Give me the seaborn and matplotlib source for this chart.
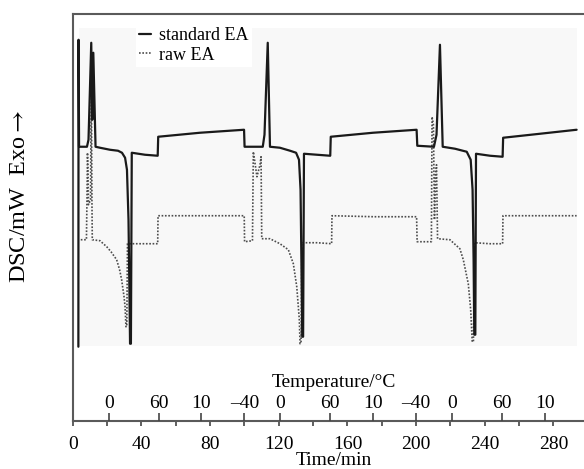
import matplotlib
matplotlib.use("Agg")
import matplotlib.pyplot as plt
import seaborn as sns
import pandas as pd
from matplotlib.patches import Rectangle

# ---------------- data ----------------
# time in min, DSC signal in arbitrary units (Exo up)
std_time = [3.3, 3.4, 3.7, 8.3, 9.2, 10.8, 11.4, 12.0, 13.3, 15.9,
            21.7, 26.4, 28.7, 30.5, 31.6, 32.5, 33.1, 33.4, 33.9, 34.4,
            42.1, 49.5, 49.8, 74.1, 99.8, 100.1, 110.7, 111.7, 113.6, 114.9,
            120.7, 126.6, 130.1, 131.8, 132.7, 133.2, 133.7, 134.2, 134.7, 142.3,
            150.0, 150.3, 174.9, 200.3, 200.7, 210.4, 211.9, 213.9, 215.5, 222.7,
            229.5, 231.8, 232.9, 233.5, 233.9, 234.5, 234.9, 243.1, 250.4, 250.7,
            272.2, 293.5]
std_signal = [74, 381, 274, 274, 281, 378, 301, 368, 274, 273,
              271, 270, 268, 263, 251, 201, 121, 77, 77, 268,
              266, 265, 284, 288, 291, 274, 274, 286, 378, 274,
              273, 270, 268, 261, 231, 161, 84, 84, 267, 266,
              265, 284, 288, 291, 275, 274, 286, 376, 274, 272,
              269, 261, 231, 161, 86, 86, 267, 265, 264, 283,
              287, 291]

raw_time = [4.7, 8.0, 8.3, 8.6, 8.9, 9.2, 10.4, 10.8, 11.2, 11.4,
            15.9, 19.8, 22.3, 25.6, 27.3, 28.5, 29.9, 30.5, 31.0, 31.5,
            31.9, 40.4, 49.5, 49.7, 74.1, 99.9, 100.1, 104.7, 105.2, 105.9,
            107.3, 109.1, 109.7, 110.1, 114.9, 120.7, 125.6, 128.5, 130.5, 132.0,
            132.4, 133.0, 133.5, 142.3, 150.8, 151.0, 175.5, 200.3, 200.6, 208.9,
            209.3, 210.1, 210.7, 211.4, 211.9, 212.5, 219.7, 225.5, 227.5, 230.4,
            231.8, 232.7, 233.4, 234.1, 243.0, 250.4, 250.6, 272.2, 293.5]
raw_signal = [181, 181, 221, 268, 251, 216, 221, 351, 221, 181,
              180, 174, 169, 161, 151, 141, 124, 114, 94, 94,
              177, 177, 177, 205, 205, 205, 179, 180, 269, 261,
              244, 256, 264, 182, 182, 177, 171, 157, 134, 101,
              77, 78, 178, 178, 177, 205, 204, 204, 179, 179,
              304, 296, 201, 246, 256, 182, 181, 172, 161, 137,
              111, 79, 79, 178, 177, 177, 205, 205, 205]

series_labels = ["standard EA", "raw EA"]

time_ticks = [0, 40, 80, 120, 160, 200, 240, 280]
time_minor_ticks = [20, 60, 100, 140, 180, 220, 260]
temp_tick_pos = [21, 50, 75, 100, 121, 150, 175, 200, 221, 250, 275]
temp_tick_labels = ["0", "60", "10", "\u201340", "0", "60", "10", "\u201340", "0", "60", "10"]

# ---------------- styling ----------------
sns.set_theme(style="ticks")
plt.rcParams["font.family"] = ["Liberation Serif", "DejaVu Serif"]
plt.rcParams["mathtext.fontset"] = "stix"
plt.rcParams["text.color"] = "black"
plt.rcParams["axes.labelcolor"] = "black"
plt.rcParams["xtick.color"] = "#444444"
plt.rcParams["xtick.labelcolor"] = "black"

fig = plt.figure(figsize=(5.84, 4.69), dpi=100)
ax = fig.add_axes([0.1245, 0.103, 0.8755, 0.867])
ax.set_facecolor("white")
XMAX = 297.8
ax.set_xlim(0, XMAX)
ax.set_ylim(0, 406.7)

# light grey panel of the original instrument plot
ax.add_patch(Rectangle((3.7, 75), 290, 318, facecolor="#f8f8f8",
                       edgecolor="none", zorder=0))

std_df = pd.DataFrame({"time": std_time, "signal": std_signal})
raw_df = pd.DataFrame({"time": raw_time, "signal": raw_signal})

sns.lineplot(data=std_df, x="time", y="signal", ax=ax, sort=False,
             estimator=None, color="#1a1a1a", linewidth=1.6,
             label=series_labels[0], zorder=3)
sns.lineplot(data=raw_df, x="time", y="signal", ax=ax, sort=False,
             estimator=None, color="#4d4d4d", linewidth=1.2,
             linestyle=(0, (1, 1)), label=series_labels[1], zorder=2)

handles, labels = ax.get_legend_handles_labels()
leg = ax.legend(handles, labels, loc="upper left",
                bbox_to_anchor=(0.123, 0.976), borderaxespad=0,
                frameon=True, facecolor="white", edgecolor="none",
                framealpha=1, fancybox=False, fontsize=13,
                handlelength=0.65, handletextpad=0.45, borderpad=0.2,
                labelspacing=0.12)

# spines
for side in ["left", "top", "bottom"]:
    ax.spines[side].set_color("#5a5a5a")
    ax.spines[side].set_linewidth(1.5)
ax.spines["right"].set_visible(False)

ax.set_yticks([])
ax.set_ylabel("")

ax.set_xticks(time_ticks)
ax.set_xticks(time_minor_ticks, minor=True)
ax.set_xticklabels([str(v) for v in time_ticks])
ax.tick_params(axis="x", which="both", bottom=True, top=False,
               direction="out", length=3.4, width=1.2, colors="#444444",
               labelcolor="black", labelsize=14, pad=7.5)
ax.set_xlabel("Time/min", fontsize=14)
ax.xaxis.set_label_coords(0.511, -0.077)

# temperature axis drawn just above the time axis
ax2 = ax.twiny()
ax2.set_xlim(0, XMAX)
for side in ["left", "right", "bottom", "top"]:
    ax2.spines[side].set_visible(False)
ax2.spines["top"].set_position(("axes", 0.0))
ax2.set_xticks(temp_tick_pos)
ax2.set_xticklabels(temp_tick_labels)
ax2.tick_params(axis="x", which="major", top=True, bottom=False,
                labeltop=True, labelbottom=False, direction="out",
                length=6, width=1.2, colors="#444444", labelcolor="black",
                labelsize=14, pad=0)
ax2.xaxis.set_label_position("top")
ax2.set_xlabel("Temperature/\u00b0C", fontsize=14)
ax2.xaxis.set_label_coords(0.511, 0.084)
ax2.set_yticks([])

fig.text(20 / 584, 1 - 196 / 469, "DSC/mW  Exo$\\rightarrow$", rotation=90,
         ha="center", va="center", fontsize=17.5, color="black")

fig.savefig("out.png", dpi=100, facecolor="white")
